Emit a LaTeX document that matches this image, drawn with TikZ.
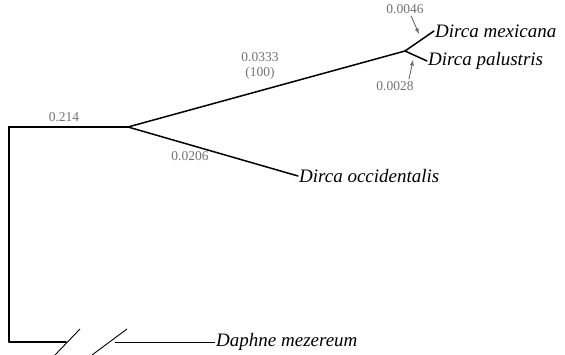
\documentclass[tikz,border=0pt]{standalone}
\usepackage{fontspec}
\setmainfont{Liberation Serif}
\begin{document}
\begin{tikzpicture}[x=1pt,y=-1pt,
  br/.style={line width=1.5pt, line cap=round},
  thin/.style={line width=0.9pt},
  taxon/.style={font=\fontsize{19}{21}\selectfont\itshape, anchor=west, inner sep=1pt},
  lab/.style={font=\fontsize{13.5}{15}\selectfont, text=gray!90!black, inner sep=1pt},
  arr/.style={->, >=latex, gray!85!black, line width=0.9pt}]
\useasboundingbox (0,0) rectangle (565,355);
\coordinate (root) at (9,127);
\coordinate (rootb) at (9,342);
\coordinate (n1) at (128,127);
\coordinate (n2) at (405,51);
\node[taxon] (mex) at (434,31) {Dirca mexicana};
\node[taxon] (pal) at (427,61) {Dirca palustris};
\node[taxon] (occ) at (298,176) {Dirca occidentalis};
\node[taxon] (daph) at (215,342) {Daphne mezereum};
\coordinate (b1) at (66,342);
\coordinate (b2) at (115,342);
\draw[br] (rootb) -- (root) -- (n1);
\draw[br] (n1) -- (n2);
\draw[br] (n1) -- (occ.west);
\draw[br] (n2) -- (mex.west);
\draw[br] (n2) -- (pal.west);
\draw[br] (rootb) -- (b1);
\draw[thin] (b2) -- (daph.west);
\draw[thin] (55,355) -- (80,329);
\draw[thin] (92,355) -- (127,329);
\node[lab] (l1) at (64,117) {0.214};
\node[lab] (l2) at (190,156) {0.0206};
\node[lab, align=center] (l3) at (260,66) {0.0333\\(100)};
\node[lab] (l4) at (405,9) {0.0046};
\node[lab] (l5) at (395,86) {0.0028};
\coordinate (a4) at (419,34);
\coordinate (a5) at (413,60);
\draw[arr] (l4.south) ++(6,1) -- (a4);
\draw[arr] (l5.north) ++(14,-1) -- (a5);
\end{tikzpicture}
\end{document}
